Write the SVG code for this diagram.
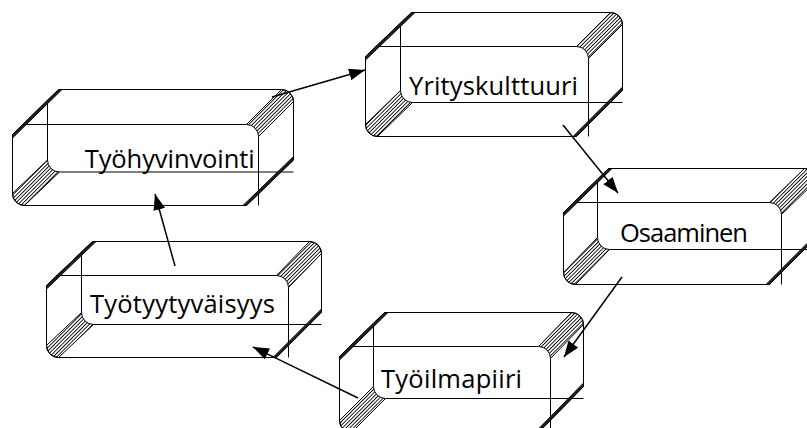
<svg xmlns="http://www.w3.org/2000/svg" width="807" height="428" viewBox="0 0 807 428">
<style>
.outline{fill:#fff;stroke:#000;stroke-width:1}
.band{fill:url(#hatch);stroke:#000;stroke-width:1}
.stripe{fill:#222;stroke:#000;stroke-width:1}
.ln{fill:none;stroke:#000;stroke-width:1}
.lbl{font-family:"Open Sans","Noto Sans","Liberation Sans",sans-serif;font-size:25.5px;fill:#000}
.conn{fill:none;stroke:#000;stroke-width:1.5}
</style>
<defs>
<pattern id="hatch" width="2.6" height="2.6" patternUnits="userSpaceOnUse" patternTransform="rotate(-45)">
<line x1="0" y1="1.3" x2="2.6" y2="1.3" stroke="#000" stroke-width="0.9"/>
</pattern>
<marker id="arr" markerWidth="16" markerHeight="12" refX="16" refY="6" orient="auto" markerUnits="userSpaceOnUse">
<path d="M0,0 L16,6 L0,12 Z" fill="#000"/>
</marker>
</defs>

<g id="tyohyvinvointi">
<path class="outline" d="M12.5,134.5 L58.5,89.5 H281.5 A12,12 0 0 1 293.5,101.5 V160 L246.5,205.5 H24.5 A12,12 0 0 1 12.5,193.5 Z"/>
<path class="ln" d="M22.5,124.5 H246.5 M47.5,100.5 V160 M59.5,172 H293.5 M258.5,136.5 V205.5"/>
<path class="band" d="M246.5,124.5 L281.5,89.5 A12,12 0 0 1 293.5,101.5 L258.5,136.5 A12,12 0 0 0 246.5,124.5 Z"/>
<path class="band" d="M47.5,160 L12.5,193.5 A12,12 0 0 0 24.5,205.5 L59.5,172 A12,12 0 0 1 47.5,160 Z"/>
<polygon class="stripe" points="12.5,134.5 58.5,89.5 62,89.5 12.5,138"/>
<polygon class="stripe" points="293.5,160 246.5,205.5 243,205.5 293.5,156.5"/>
<text class="lbl" x="84.7" y="167.7" textLength="170" lengthAdjust="spacing">Työhyvinvointi</text>
</g>

<g id="yrityskulttuuri">
<path class="outline" d="M365.5,56.5 L411.5,12.5 H610.5 A12,12 0 0 1 622.5,24.5 V90.5 L576.5,136.5 H377.5 A12,12 0 0 1 365.5,124.5 Z"/>
<path class="ln" d="M375.5,46.5 H576.5 M400.5,23.5 V90.5 M412.5,102.5 H622.5 M588.5,58.5 V136.5"/>
<path class="band" d="M576.5,46.5 L610.5,12.5 A12,12 0 0 1 622.5,24.5 L588.5,58.5 A12,12 0 0 0 576.5,46.5 Z"/>
<path class="band" d="M400.5,90.5 L365.5,124.5 A12,12 0 0 0 377.5,136.5 L412.5,102.5 A12,12 0 0 1 400.5,90.5 Z"/>
<polygon class="stripe" points="365.5,56.5 411.5,12.5 415,12.5 365.5,60"/>
<polygon class="stripe" points="622.5,90.5 576.5,136.5 573,136.5 622.5,87"/>
<text class="lbl" x="409" y="95" textLength="169" lengthAdjust="spacing">Yrityskulttuuri</text>
</g>

<g id="osaaminen">
<path class="outline" d="M563.5,212.5 L608.5,168.5 H804.5 A12,12 0 0 1 816.5,180.5 V237.5 L769.5,284.5 H575.5 A12,12 0 0 1 563.5,272.5 Z"/>
<path class="ln" d="M573.5,202.5 H769.5 M597.5,179.5 V237.5 M609.5,249.5 H816.5 M781.5,214.5 V284.5"/>
<path class="band" d="M769.5,202.5 L804.5,168.5 A12,12 0 0 1 816.5,180.5 L781.5,214.5 A12,12 0 0 0 769.5,202.5 Z"/>
<path class="band" d="M597.5,237.5 L563.5,272.5 A12,12 0 0 0 575.5,284.5 L609.5,249.5 A12,12 0 0 1 597.5,237.5 Z"/>
<polygon class="stripe" points="563.5,212.5 608.5,168.5 612,168.5 563.5,216"/>
<polygon class="stripe" points="816.5,237.5 769.5,284.5 766,284.5 816.5,234"/>
<text class="lbl" x="620" y="241.5" textLength="128" lengthAdjust="spacing">Osaaminen</text>
</g>

<g id="tyotyytyvaisyys">
<path class="outline" d="M46.5,285.5 L92.5,241.5 H309.5 A12,12 0 0 1 321.5,253.5 V312.5 L276.5,357.5 H58.5 A12,12 0 0 1 46.5,345.5 Z"/>
<path class="ln" d="M56.5,275.5 H276.5 M81.5,252.5 V312.5 M93.5,324.5 H321.5 M288.5,287.5 V357.5"/>
<path class="band" d="M276.5,275.5 L309.5,241.5 A12,12 0 0 1 321.5,253.5 L288.5,287.5 A12,12 0 0 0 276.5,275.5 Z"/>
<path class="band" d="M81.5,312.5 L46.5,345.5 A12,12 0 0 0 58.5,357.5 L93.5,324.5 A12,12 0 0 1 81.5,312.5 Z"/>
<polygon class="stripe" points="46.5,285.5 92.5,241.5 96,241.5 46.5,289"/>
<polygon class="stripe" points="321.5,312.5 276.5,357.5 273,357.5 321.5,309"/>
<text class="lbl" x="90" y="313.3" textLength="185" lengthAdjust="spacing">Työtyytyväisyys</text>
</g>

<g id="tyoilmapiiri">
<path class="outline" d="M339.5,356.5 L384.5,312.5 H571.5 A12,12 0 0 1 583.5,324.5 V386.5 L538.5,432.5 H351.5 A12,12 0 0 1 339.5,420.5 Z"/>
<path class="ln" d="M349.5,346.5 H538.5 M373.5,323.5 V386.5 M385.5,398.5 H583.5 M550.5,358.5 V432.5"/>
<path class="band" d="M538.5,346.5 L571.5,312.5 A12,12 0 0 1 583.5,324.5 L550.5,358.5 A12,12 0 0 0 538.5,346.5 Z"/>
<path class="band" d="M373.5,386.5 L339.5,420.5 A12,12 0 0 0 351.5,432.5 L385.5,398.5 A12,12 0 0 1 373.5,386.5 Z"/>
<polygon class="stripe" points="339.5,356.5 384.5,312.5 388,312.5 339.5,360"/>
<polygon class="stripe" points="583.5,386.5 538.5,432.5 535,432.5 583.5,383"/>
<text class="lbl" x="381" y="388" textLength="141" lengthAdjust="spacing">Työilmapiiri</text>
</g>

<g id="connectors">
<line class="conn" x1="272" y1="97" x2="365" y2="70" marker-end="url(#arr)"/>
<line class="conn" x1="563" y1="125" x2="618" y2="193" marker-end="url(#arr)"/>
<line class="conn" x1="622" y1="277" x2="564" y2="357" marker-end="url(#arr)"/>
<line class="conn" x1="358" y1="398" x2="253" y2="347" marker-end="url(#arr)"/>
<line class="conn" x1="175" y1="266" x2="155" y2="194" marker-end="url(#arr)"/>
</g>
</svg>
